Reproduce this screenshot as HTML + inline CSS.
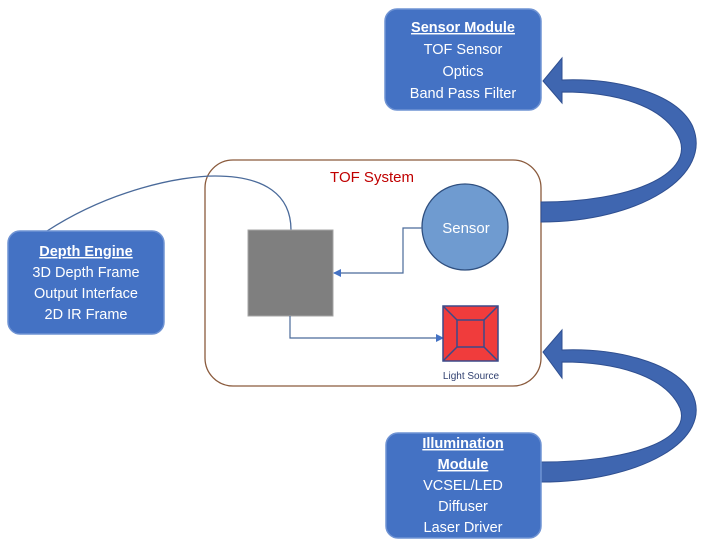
<!DOCTYPE html>
<html><head><meta charset="utf-8"><style>
body{margin:0;background:#fff;}
svg{display:block;}
text{font-family:"Liberation Sans",sans-serif;}
</style></head><body>
<svg width="709" height="553" viewBox="0 0 709 553" xmlns="http://www.w3.org/2000/svg">
<defs>
<marker id="ah" markerWidth="8" markerHeight="8" refX="7" refY="4" orient="auto" markerUnits="userSpaceOnUse"><path d="M0,0 L8,4 L0,8 Z" fill="#4472c4"/></marker>
</defs>
<rect x="205" y="160" width="336" height="226" rx="28" fill="#fff" stroke="#8a5a3c" stroke-width="1.3"/>
<text x="372" y="182" font-size="15" fill="#c00000" text-anchor="middle">TOF System</text>
<path d="M47,231 C110,190 180,176 215,176 C265,176 291,195 291,230" fill="none" stroke="#4a6a9a" stroke-width="1.3"/>
<rect x="248" y="230" width="85" height="86" fill="#7f7f7f" stroke="#a6a6a6" stroke-width="1"/>
<circle cx="465" cy="227" r="43" fill="#6f9bd0" stroke="#2f4f7f" stroke-width="1.3"/>
<text x="466" y="233" font-size="15" fill="#fff" text-anchor="middle">Sensor</text>
<path d="M422,228 H403 V273 H334" fill="none" stroke="#4a6a9a" stroke-width="1.2" marker-end="url(#ah)"/>
<path d="M290,316 V338 H443" fill="none" stroke="#4a6a9a" stroke-width="1.2" marker-end="url(#ah)"/>
<rect x="443" y="306" width="55" height="55" fill="#f03c3c" stroke="#3a4a8a" stroke-width="1.5"/>
<rect x="457" y="320" width="27" height="27" fill="#f03c3c" stroke="#3a4a8a" stroke-width="1.5"/>
<path d="M443,306 L457,320 M498,306 L484,320 M443,361 L457,347 M498,361 L484,347" stroke="#3a4a8a" stroke-width="1.5"/>
<text x="471" y="379" font-size="10" fill="#2f3f6f" text-anchor="middle">Light Source</text>
<path d="M541,222 C640,222 715,175 692,125 C675,92 615,78 562,80 L562,58 L543,81 L562,103 L562,92 C615,92 665,105 680,140 C692,175 630,202 541,202 Z" fill="#3f66b0" stroke="#2f4f90" stroke-width="1"/>
<path d="M541,482 C640,482 715,440 692,393 C675,362 615,348 562,350 L562,330 L543,352 L562,378 L562,362 C615,362 665,375 680,408 C692,440 630,462 541,462 Z" fill="#3f66b0" stroke="#2f4f90" stroke-width="1"/>
<rect x="385" y="9" width="156" height="101" rx="12" fill="#4472c4" stroke="#6f93d3" stroke-width="1.5"/>
<g font-size="14.5" fill="#fff" text-anchor="middle">
<text x="463" y="32" font-weight="bold" text-decoration="underline">Sensor Module</text>
<text x="463" y="54">TOF Sensor</text>
<text x="463" y="76">Optics</text>
<text x="463" y="98">Band Pass Filter</text>
</g>
<rect x="8" y="231" width="156" height="103" rx="12" fill="#4472c4" stroke="#6f93d3" stroke-width="1.5"/>
<g font-size="14.5" fill="#fff" text-anchor="middle">
<text x="86" y="256" font-weight="bold" text-decoration="underline">Depth Engine</text>
<text x="86" y="277">3D Depth Frame</text>
<text x="86" y="298">Output Interface</text>
<text x="86" y="319">2D IR Frame</text>
</g>
<rect x="386" y="433" width="155" height="105" rx="12" fill="#4472c4" stroke="#6f93d3" stroke-width="1.5"/>
<g font-size="14.5" fill="#fff" text-anchor="middle">
<text x="463" y="448" font-weight="bold" text-decoration="underline">Illumination</text>
<text x="463" y="469" font-weight="bold" text-decoration="underline">Module</text>
<text x="463" y="490">VCSEL/LED</text>
<text x="463" y="511">Diffuser</text>
<text x="463" y="532">Laser Driver</text>
</g>
</svg>
</body></html>
